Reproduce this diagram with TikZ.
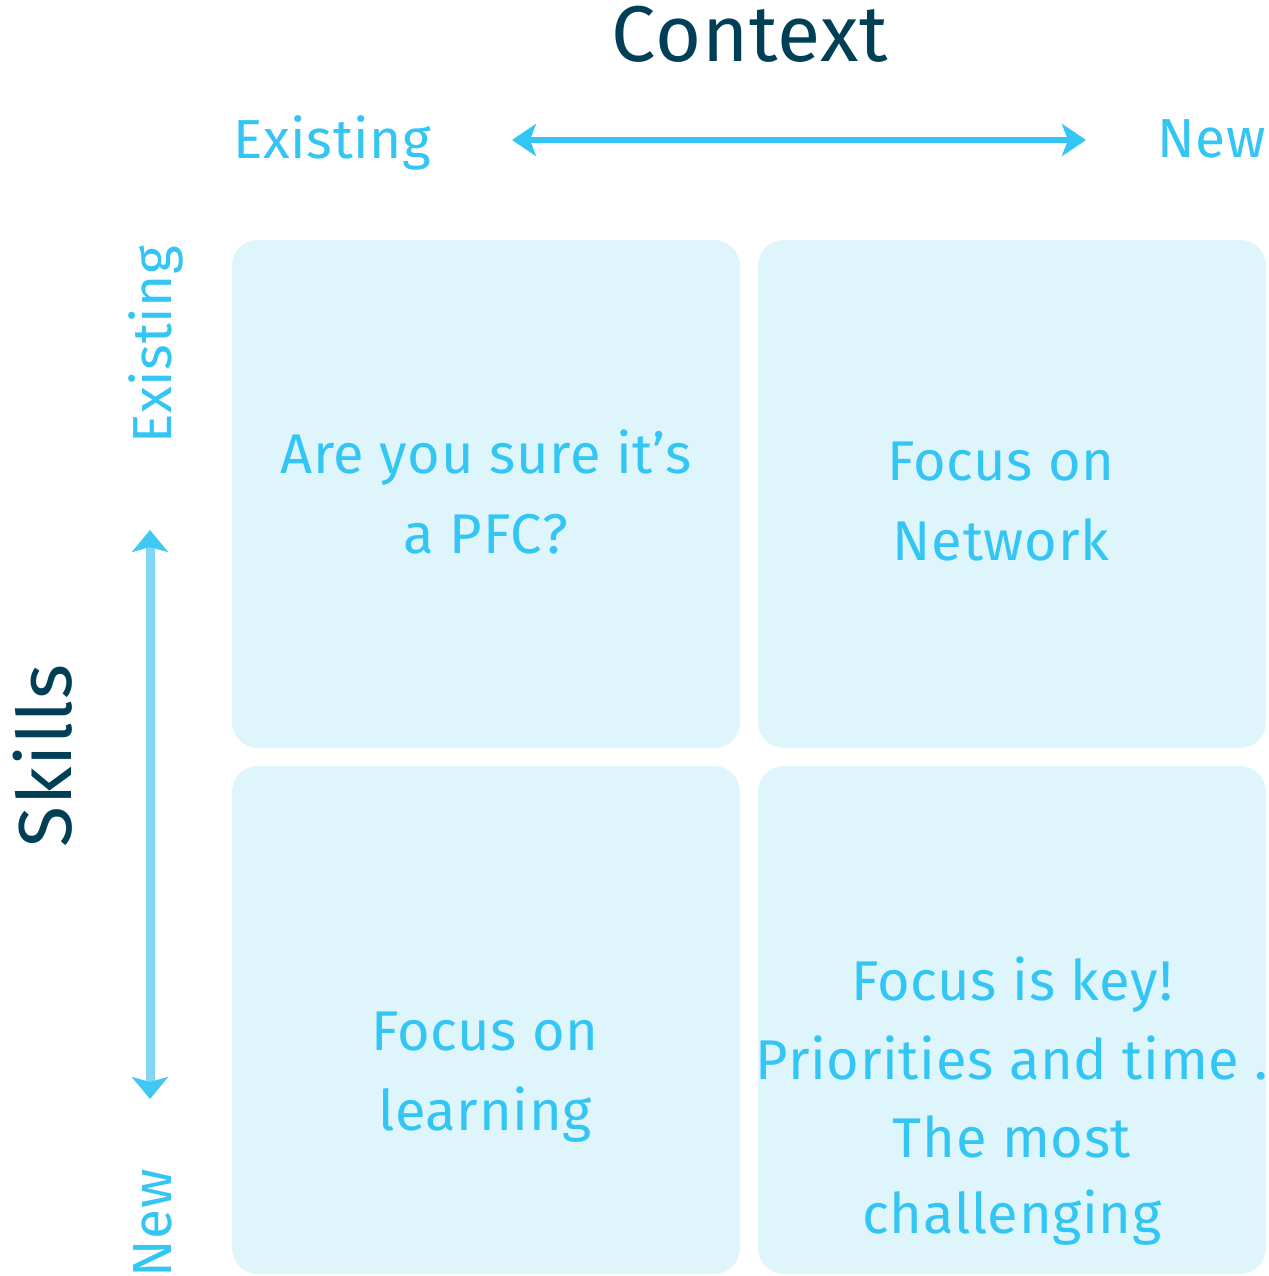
\documentclass[tikz,border=0pt]{standalone}
\usepackage{fontspec}
\setmainfont{Fira Sans}
\newfontfamily\qfont[LetterSpace=1.2]{Fira Sans}
\newfontfamily\tfont[LetterSpace=1.0]{Fira Sans}
\usetikzlibrary{arrows.meta}
\definecolor{dark}{HTML}{003F55}
\definecolor{lite}{HTML}{33C5F3}
\definecolor{boxfill}{HTML}{DFF5FC}
\definecolor{varrow}{HTML}{80D6F4}
\tikzset{
  quad/.style={fill=boxfill, draw=none, rounded corners=26pt},
  qtext/.style={text=lite, anchor=base, inner sep=0pt, font=\qfont\fontsize{56}{64}\selectfont},
  axlab/.style={text=lite, inner sep=0pt, font=\qfont\fontsize{55}{64}\selectfont},
  title/.style={text=dark, inner sep=0pt, font=\tfont\fontsize{79}{90}\selectfont},
}
\begin{document}
\begin{tikzpicture}[x=1pt,y=-1pt]
\useasboundingbox (0,0) rectangle (1268,1276);
\fill[white] (0,0) rectangle (1268,1276);
% quadrants
\fill[quad] (232,240) rectangle (740,748);
\fill[quad] (758,240) rectangle (1266,748);
\fill[quad] (232,766) rectangle (740,1274);
\fill[quad] (758,766) rectangle (1266,1274);
% titles
\node[title, anchor=base] (ctx) at (750,62) {Context};
\node[title, anchor=base, rotate=90, font=\tfont\fontsize{75}{90}\selectfont] (skl) at (71,756) {Skills};
% top axis labels
\node[axlab, anchor=base west] (exT) at (233,159) {Existing};
\node[axlab, anchor=base east] (newT) at (1266,158) {New};
\coordinate (hL) at (512,140);
\coordinate (hR) at (1086,140);
\draw[lite, line width=6pt, {Stealth[length=24pt,width=32pt,inset=6pt]}-{Stealth[length=24pt,width=32pt,inset=6pt]}] (hL) -- (hR);
% left axis labels
\node[axlab, anchor=base west, rotate=90] (exL) at (171,444) {Existing};
\node[axlab, anchor=base west, rotate=90] (newL) at (171,1278) {New};
\coordinate (vT) at (150,530);
\coordinate (vB) at (150,1099);
\draw[varrow, line width=9pt, {Stealth[length=22pt,width=36pt,inset=5pt,color=lite!85!varrow]}-{Stealth[length=22pt,width=36pt,inset=5pt,color=lite!85!varrow]}] (vT) -- (vB);
% quadrant texts
\node[qtext] (tl1) at (486,473) {Are you sure it’s};
\node[qtext] (tl2) at (486,553) {a PFC?};
\node[qtext] (tr1) at (1001,480) {Focus on};
\node[qtext] (tr2) at (1001,560) {Network};
\node[qtext] (bl1) at (485,1050) {Focus on};
\node[qtext] (bl2) at (485,1130) {learning};
\node[qtext] (br1) at (1012,1000) {Focus is key!};
\node[qtext] (br2) at (1012,1079) {Priorities and time .};
\node[qtext] (br3) at (1012,1157) {The most};
\node[qtext] (br4) at (1012,1233) {challenging};
\end{tikzpicture}
\end{document}
